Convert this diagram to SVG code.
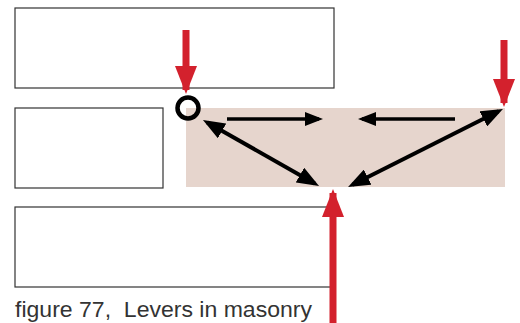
<svg xmlns="http://www.w3.org/2000/svg" width="520" height="323" viewBox="0 0 520 323">
<style>
.box{fill:#fff;stroke:#333;stroke-width:1.2}
.blk{stroke:#000;stroke-width:3.5;fill:none}
.dia{stroke:#000;stroke-width:4;fill:none}
.red{stroke:#d3212d;stroke-width:7;fill:none}
.cap{font-family:"Liberation Sans",Arial,sans-serif;font-size:22px;fill:#333;white-space:pre}
</style>
<defs>
<marker id="ab" markerUnits="userSpaceOnUse" viewBox="0 0 18 14" markerWidth="18" markerHeight="14" refX="14" refY="7" orient="auto-start-reverse"><path d="M0,0 L18,7 L0,14 Z" fill="#000"/></marker>
<marker id="ad" markerUnits="userSpaceOnUse" viewBox="0 0 22 17" markerWidth="22" markerHeight="17" refX="17" refY="8.5" orient="auto-start-reverse"><path d="M0,0 L22,8.5 L0,17 Z" fill="#000"/></marker>
<marker id="ar" markerUnits="userSpaceOnUse" viewBox="0 0 28 22" markerWidth="28" markerHeight="22" refX="24" refY="11" orient="auto"><path d="M0,0 L28,11 L0,22 Z" fill="#d3212d"/></marker>
</defs>
<g id="block-top"><rect class="box" x="15" y="8" width="319" height="80"/></g>
<g id="block-middle"><rect class="box" x="15" y="108" width="148" height="80"/></g>
<g id="block-bottom"><rect class="box" x="15" y="207" width="316" height="80"/></g>
<g id="lever-zone"><rect x="186" y="108" width="319" height="79" fill="#e6d5cd"/></g>
<g id="pivot"><circle cx="188" cy="108" r="10.5" fill="none" stroke="#000" stroke-width="4.5"/></g>
<g id="connectors">
<line class="blk" x1="227" y1="119" x2="319" y2="119" marker-end="url(#ab)"/>
<line class="blk" x1="455" y1="119" x2="362" y2="119" marker-end="url(#ab)"/>
<line class="dia" x1="207.3" y1="122.5" x2="314.7" y2="183.5" marker-start="url(#ad)" marker-end="url(#ad)"/>
<line class="dia" x1="498.5" y1="111.2" x2="352.5" y2="184.8" marker-start="url(#ad)" marker-end="url(#ad)"/>
<line class="red" x1="186" y1="30" x2="186" y2="90" marker-end="url(#ar)"/>
<line class="red" x1="504" y1="40" x2="504" y2="103" marker-end="url(#ar)"/>
<line class="red" x1="333" y1="323" x2="333" y2="193" marker-end="url(#ar)"/>
</g>
<text class="cap" x="15" y="317" textLength="297" lengthAdjust="spacingAndGlyphs">figure 77,  Levers in masonry</text>
</svg>
